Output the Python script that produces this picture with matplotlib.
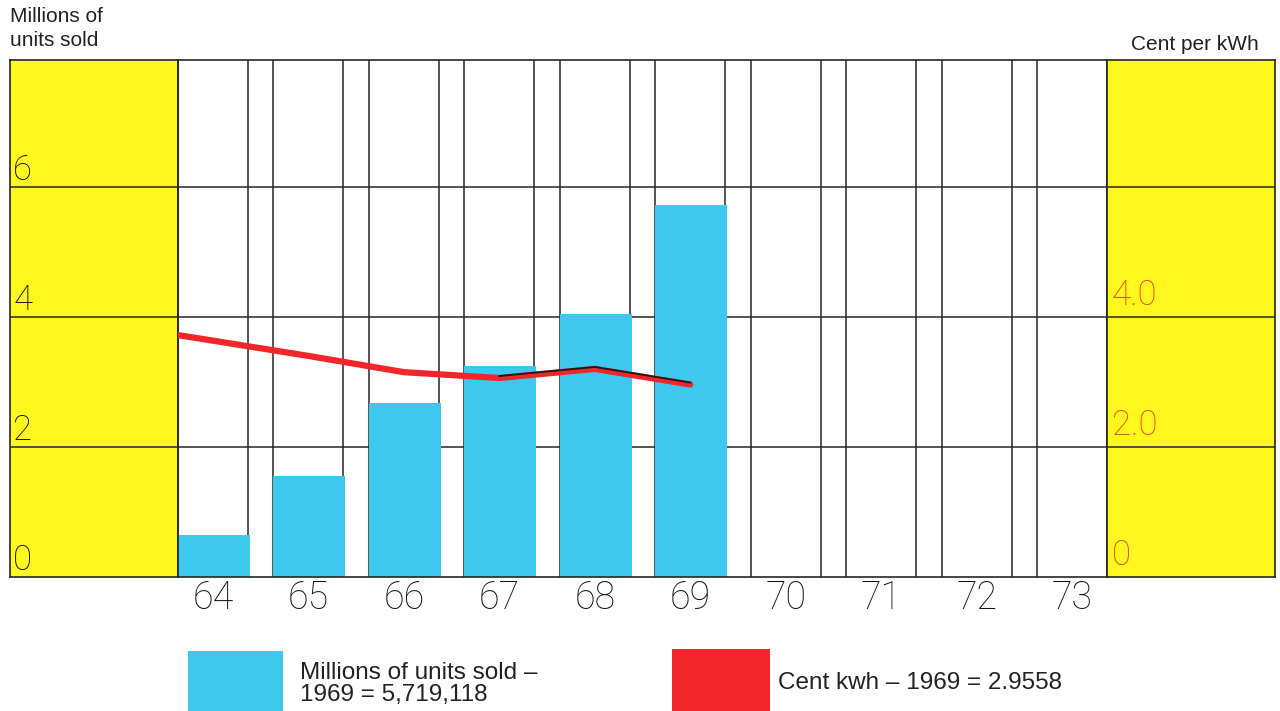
import matplotlib
matplotlib.use('Agg')
import matplotlib.pyplot as plt
from matplotlib.patches import Rectangle

# ---- data ----
years = ['64', '65', '66', '67', '68', '69', '70', '71', '72', '73']
units_sold = [0.65, 1.55, 2.68, 3.25, 4.05, 5.72]      # millions of units, 1964-1969
cent_per_kwh = [3.72, 3.40, 3.15, 3.06, 3.20, 2.96]    # cent per kWh, 1964-1969
left_ticks = [0, 2, 4, 6]
left_tick_labels = ['0', '2', '4', '6']
right_ticks = [0, 2, 4]
right_tick_labels = ['0', '2.0', '4.0']

# ---- style ----
YELLOW = '#FFF71E'
BLUE = '#3FC8EE'
RED = '#F2262A'
LINE = '#262626'
LABEL_RED = '#E04A18'
TXT = '#111111'
W, H = 1280, 711
YMAX = 7.95
COLW = 0.73

fig = plt.figure(figsize=(12.8, 7.11), dpi=100)


def ax_px(x0, y0, x1, y1):
    return fig.add_axes([x0 / W, 1 - y1 / H, (x1 - x0) / W, (y1 - y0) / H])


axL = ax_px(10, 60, 178, 577)
ax = ax_px(178, 60, 1107, 577)
axR = ax_px(1107, 60, 1275, 577)

for a in (axL, ax, axR):
    a.set_ylim(0, YMAX)
    for s in a.spines.values():
        s.set_color(LINE)
        s.set_linewidth(1.2)
    a.tick_params(left=False, right=False, labelleft=False)
    for t in left_ticks[1:]:
        a.axhline(t, color=LINE, lw=1.1, zorder=1)

# side panels
for a in (axL, axR):
    a.set_facecolor(YELLOW)
    a.set_xlim(0, 1)
    a.set_xticks([])

tick_font = dict(family=['Roboto', 'DejaVu Sans'], fontweight='light')
for v, lab in zip(left_ticks, left_tick_labels):
    axL.text(0.02, v + 0.0, lab, fontsize=25, color=TXT, ha='left', va='bottom', **tick_font)
for v, lab in zip(right_ticks, right_tick_labels):
    axR.text(0.03, v + 0.07, lab, fontsize=25, color=LABEL_RED, ha='left', va='bottom', **tick_font)

# main panel
ax.set_xlim(0, len(years) - 1 + COLW)
x = list(range(len(years)))
for i in x:
    ax.axvline(i, color=LINE, lw=1.1, zorder=1)
    ax.axvline(i + COLW, color=LINE, lw=1.1, zorder=1)

ax.bar(x[:len(units_sold)], units_sold, width=COLW + 0.02, align='edge',
       color=BLUE, edgecolor='none', zorder=2)

line_x = [i + COLW / 2 for i in range(len(cent_per_kwh))]
line_x[0] = 0.0
ax.plot(line_x, cent_per_kwh, color=RED, lw=4.5, solid_capstyle='round',
        solid_joinstyle='round', zorder=3)
ax.plot(line_x[3:], [v + 0.03 for v in cent_per_kwh[3:]], color='#1a1a1a', lw=1.3, zorder=4)

ax.set_xticks([i + COLW / 2 for i in x])
ax.set_xticklabels(years, fontsize=27, color=TXT, **tick_font)
ax.tick_params(axis='x', length=0, pad=2)

# titles
fig.text(10 / W, 1 - 7 / H, 'Millions of\nunits sold', fontsize=15, color='#222222',
         ha='left', va='top', linespacing=1.3, family=['Liberation Sans', 'DejaVu Sans'])
fig.text(1259 / W, 1 - 50 / H, 'Cent per kWh', fontsize=15, color='#222222',
         ha='right', va='baseline', family=['Liberation Sans', 'DejaVu Sans'])

# legend
fig.add_artist(Rectangle((188 / W, 0), 95 / W, 60 / H, transform=fig.transFigure,
                         facecolor=BLUE, edgecolor='none'))
fig.add_artist(Rectangle((672 / W, 0), 98 / W, 62 / H, transform=fig.transFigure,
                         facecolor=RED, edgecolor='none'))
leg_font = dict(family=['Liberation Sans Narrow', 'Liberation Sans', 'DejaVu Sans'])
fig.text(300 / W, 1 - 684 / H, 'Millions of units sold –\n1969 = 5,719,118', fontsize=17.5,
         color='#222222', ha='left', va='center', linespacing=1.05, **leg_font)
fig.text(778 / W, 1 - 683 / H, 'Cent kwh – 1969 = 2.9558', fontsize=17.5,
         color='#222222', ha='left', va='center', **leg_font)

fig.savefig('out.png', dpi=100)
